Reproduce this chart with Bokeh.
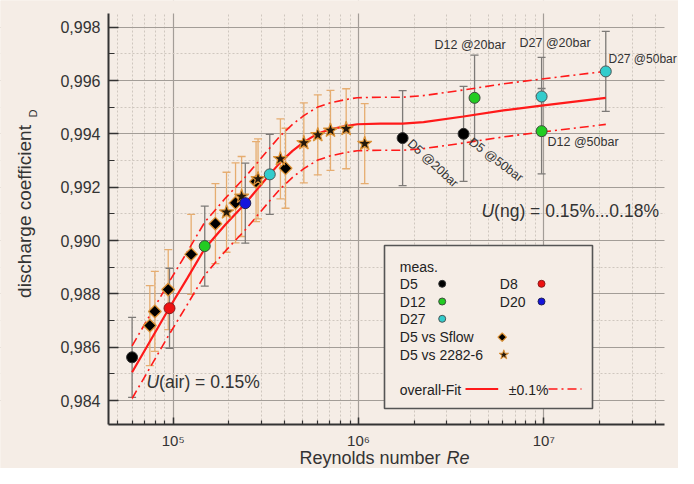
import math
from bokeh.plotting import figure
from bokeh.models import Range1d, FixedTicker, SingleIntervalTicker, CustomJSTickFormatter, Label
from bokeh.embed import file_html
from bokeh.resources import INLINE

# ---------------- data ----------------
d5_re = [6.0e4, 1.73e6, 3.69e6]
d5_cd = [0.98562, 0.99384, 0.99400]
d5_err = [0.0015, 0.00178, 0.00178]

d8_re = [9.55e4]
d8_cd = [0.98746]
d8_err = [0.0015]

d12_re = [1.48e5, 4.23e6, 9.73e6]
d12_cd = [0.98979, 0.99535, 0.99410]
d12_err = [0.0015, 0.0016, 0.0016]

d20_re = [2.45e5]
d20_cd = [0.99140]
d20_err = [0.0015]

d27_re = [3.32e5, 9.73e6, 2.16e7]
d27_cd = [0.99248, 0.99540, 0.99634]
d27_err = [0.0015, 0.00147, 0.0015]

sflow_re = [7.48e4, 7.96e4, 9.4e4, 1.25e5, 1.69e5, 2.17e5, 2.80e5, 4.04e5]
sflow_cd = [0.98681, 0.98734, 0.98816, 0.98948, 0.99063, 0.99141, 0.99221, 0.99271]
sflow_err = [0.0015] * 8

cmp_re = [1.94e5, 2.34e5, 2.87e5, 3.79e5, 5.07e5, 6.03e5, 7.06e5, 8.58e5, 1.08e6]
cmp_cd = [0.99106, 0.99165, 0.99231, 0.99306, 0.99366, 0.99396, 0.99413, 0.99419, 0.99363]
cmp_err = [0.0015] * 9

fit_re = [6.0e4, 7.54e4, 9.47e4, 1.19e5, 1.481e5, 1.915e5, 2.456e5, 3.321e5, 3.794e5,
          4.405e5, 5.068e5, 5.985e5, 7.063e5, 8.508e5, 9.84e5, 1.314e6, 1.728e6,
          2.243e6, 3.687e6, 6.06e6, 9.72e6, 2.161e7]
fit_cd = [0.98506, 0.98625, 0.98744, 0.98858, 0.98970, 0.99060, 0.99140, 0.99248, 0.99294,
          0.99336, 0.99369, 0.99400, 0.99417, 0.99429, 0.99436, 0.99438, 0.99438,
          0.99444, 0.99465, 0.99488, 0.99506, 0.99535]
band_rel = 0.001  # +-0.1 %

x_major = [1e5, 1e6, 1e7]
x_minor = ([m * 1e4 for m in range(5, 10)] + [m * 1e5 for m in range(2, 10)]
           + [m * 1e6 for m in range(2, 10)] + [m * 1e7 for m in range(2, 5)])

# ---------------- layout helpers ----------------
W, H = 678, 468
BG = "#f5ede6"
FONT = "Liberation Sans"
FL, FR, FT, FB = 108, 664, 13, 424          # plot-area edges in picture pixels


def sx(px):  # picture x pixel -> Reynolds number
    return 10 ** (5 + (px - 172.7) / 185.3)


def sy(py):  # picture y pixel -> discharge coefficient
    return 0.990 + (240 - py) * 3.75e-5


p = figure(width=W, height=H, x_axis_type="log",
           x_range=Range1d(sx(0), sx(W)), y_range=Range1d(sy(H), sy(0)),
           output_backend="svg", toolbar_location=None,
           min_border_left=0, min_border_right=0, min_border_top=0, min_border_bottom=0)
p.background_fill_color = BG
p.border_fill_color = BG
p.outline_line_color = None

xt = FixedTicker(ticks=x_major, minor_ticks=x_minor)
yt = SingleIntervalTicker(interval=0.002, num_minor_ticks=2)
p.xaxis.ticker = xt
p.yaxis.ticker = yt
p.xgrid.ticker = xt
p.ygrid.ticker = yt
p.xgrid.bounds = (sx(FL), sx(FR))
p.ygrid.bounds = (sy(FB), sy(FT))
for g in (p.xgrid, p.ygrid):
    g.grid_line_color = "#a39d97"
    g.grid_line_width = 1.2
    g.minor_grid_line_color = "#cfc7bf"
    g.minor_grid_line_dash = "2 2"
    g.minor_grid_line_width = 1

# axes drawn at the plot-area edges inside the full-canvas frame
p.yaxis.fixed_location = sx(FL)
p.yaxis.bounds = (sy(FB), sy(FT))
p.xaxis.fixed_location = sy(FB)
p.xaxis.bounds = (sx(FL), sx(FR))

p.yaxis.formatter = CustomJSTickFormatter(code="return tick.toFixed(3).replace('.', ',');")
p.xaxis.formatter = CustomJSTickFormatter(code="""
const e = Math.round(Math.log10(tick));
const sup = {'4':'\u2074','5':'\u2075','6':'\u2076','7':'\u2077','8':'\u2078'};
return '10' + (sup[String(e)] || String(e));
""")

for ax in (p.xaxis[0], p.yaxis[0]):
    ax.axis_line_color = "#333333"
    ax.axis_line_width = 2
    ax.major_tick_line_color = "#333333"
    ax.minor_tick_line_color = "#333333"
    ax.major_tick_line_width = 1.5
    ax.minor_tick_line_width = 1.2
    ax.major_tick_out = 0
    ax.minor_tick_out = 0
    ax.major_label_text_font = FONT
    ax.major_label_text_color = "#333333"
    ax.axis_label = None
p.yaxis.major_tick_in = 10
p.yaxis.minor_tick_in = 6
p.yaxis.major_label_text_font_size = "16px"
p.yaxis.major_label_standoff = 8
p.xaxis.major_tick_in = 7
p.xaxis.minor_tick_in = 4
p.xaxis.major_label_text_font_size = "15px"
p.xaxis.major_label_standoff = 7

# background masks outside the plot area (hide grid lines there)
p.quad(left=[sx(-30), sx(FR), sx(FL), sx(FL)], right=[sx(FL), sx(W + 30), sx(FR), sx(FR)],
       top=[sy(-30), sy(-30), sy(FT), sy(FB)], bottom=[sy(H + 30), sy(H + 30), sy(-30), sy(H + 30)],
       fill_color=BG, line_color=None)


# ---------------- error bars ----------------
def errbars(xs, ys, es, color, width, cap):
    lo = [y - e for y, e in zip(ys, es)]
    hi = [y + e for y, e in zip(ys, es)]
    p.segment(x0=xs, y0=lo, x1=xs, y1=hi, line_color=color, line_width=width)
    p.scatter(list(xs) + list(xs), lo + hi, marker="dash", size=cap,
              line_color=color, line_width=width)


ORANGE_BAR = "#e6ad70"
GRAY_BAR = "#7d7a77"
errbars(sflow_re, sflow_cd, sflow_err, ORANGE_BAR, 1.3, 8)
errbars(cmp_re, cmp_cd, cmp_err, ORANGE_BAR, 1.3, 8)
for xs, ys, es in ((d5_re, d5_cd, d5_err), (d8_re, d8_cd, d8_err), (d12_re, d12_cd, d12_err),
                   (d20_re, d20_cd, d20_err), (d27_re, d27_cd, d27_err)):
    errbars(xs, ys, es, GRAY_BAR, 1.3, 8)

# ---------------- fit and band ----------------
RED = "#ff1a1a"
up = [c * (1 + band_rel) for c in fit_cd]
dn = [c * (1 - band_rel) for c in fit_cd]
p.line(fit_re, up, line_color=RED, line_width=1.6, line_dash="9 4 2 4")
p.line(fit_re, dn, line_color=RED, line_width=1.6, line_dash="9 4 2 4")
p.line(fit_re, fit_cd, line_color=RED, line_width=2.2)

# ---------------- markers ----------------
ORANGE_EDGE = "#dd9236"
p.scatter(sflow_re, sflow_cd, marker="square", angle=math.pi / 4, size=9,
          fill_color="#000000", line_color=ORANGE_EDGE, line_width=1.3)
p.scatter(cmp_re, cmp_cd, marker="star", size=15,
          fill_color="#24190c", line_color=ORANGE_EDGE, line_width=1.2)
p.scatter(d5_re, d5_cd, size=11, fill_color="#000000", line_color="#333333")
p.scatter(d8_re, d8_cd, size=11, fill_color="#ee1111", line_color="#8a1a1a")
p.scatter(d12_re, d12_cd, size=11, fill_color="#22cc22", line_color="#3d4a3d")
p.scatter(d20_re, d20_cd, size=11, fill_color="#1414dd", line_color="#222255")
p.scatter(d27_re, d27_cd, size=11, fill_color="#33cccc", line_color="#4a5555")

# ---------------- legend (drawn by hand) ----------------
p.quad(left=[sx(384)], right=[sx(592)], top=[sy(245)], bottom=[sy(408)],
       fill_color=BG, line_color="#555555", line_width=1.6)
p.scatter([sx(441.7)], [sy(283.3)], size=7, fill_color="#000000", line_color="#333333")
p.scatter([sx(441.7)], [sy(301)], size=7, fill_color="#22cc22", line_color="#3d4a3d")
p.scatter([sx(441.7)], [sy(318.3)], size=7, fill_color="#33cccc", line_color="#4a5555")
p.scatter([sx(541)], [sy(283.3)], size=7, fill_color="#ee1111", line_color="#8a1a1a")
p.scatter([sx(541)], [sy(301)], size=7, fill_color="#1414dd", line_color="#222255")
p.scatter([sx(501.7)], [sy(336.7)], marker="square", angle=math.pi / 4, size=6,
          fill_color="#000000", line_color=ORANGE_EDGE, line_width=1.2)
p.scatter([sx(503.3)], [sy(354.3)], marker="star", size=10,
          fill_color="#24190c", line_color=ORANGE_EDGE, line_width=1)
p.line([sx(465), sx(497.7)], [sy(388.5), sy(388.5)], line_color=RED, line_width=2.2)
p.line([sx(548), sx(581)], [sy(388.5), sy(388.5)], line_color=RED, line_width=1.6,
       line_dash="9 4 2 4")


def lab(px, py, text, size, align="left", angle=0.0, style="normal", color="#222222"):
    # screen units measured from the canvas' bottom-left corner, y upwards
    p.add_layout(Label(x=px, y=H - py, x_units="screen", y_units="screen",
                       text=text, text_font=FONT,
                       text_font_size=f"{size}px", text_align=align, text_baseline="middle",
                       angle=angle, angle_units="rad", text_font_style=style,
                       text_color=color))


for t, x_, y_ in (("meas.", 399.3, 266.7), ("D5", 399.3, 283.3), ("D12", 399.3, 301),
                  ("D27", 399.3, 318.3), ("D5 vs Sflow", 399.3, 336.7),
                  ("D5 vs 2282-6", 399.3, 354.3), ("overall-Fit", 399.3, 389),
                  ("D8", 499.3, 283.3), ("D20", 499.3, 301), ("\u00b10.1%", 508.3, 389)):
    lab(x_, y_, t, 14)

# ---------------- annotations ----------------
ANN = "#333333"
lab(434, 44, "D12 @20bar", 12.5, color=ANN)
lab(519, 42, "D27 @20bar", 12.5, color=ANN)
lab(608, 58, "D27 @50bar", 12, color=ANN)
lab(547, 141, "D12 @50bar", 12.5, color=ANN)
lab(409, 141, "D5 @20bar", 12.5, angle=-math.radians(43), color=ANN)
lab(470, 140, "D5 @50bar", 12.5, angle=-math.radians(37), color=ANN)
lab(481, 210.7, "U", 17.5, style="italic", color=ANN)
lab(493.6, 210.7, "(ng) = 0.15%...0.18%", 17.5, color=ANN)
lab(146, 381.7, "U", 17.5, style="italic", color=ANN)
lab(158.6, 381.7, "(air) = 0.15%", 17.5, color=ANN)

# axis titles
lab(24, 211, "discharge coefficient", 19, align="center", angle=math.pi / 2, color=ANN)
lab(32, 113, "D", 11, align="center", angle=math.pi / 2, color=ANN)
lab(299, 457.5, "Reynolds number", 18, color=ANN)
lab(446, 457.5, "Re", 18, style="italic", color=ANN)

open("out.html", "w").write(file_html(p, INLINE))
